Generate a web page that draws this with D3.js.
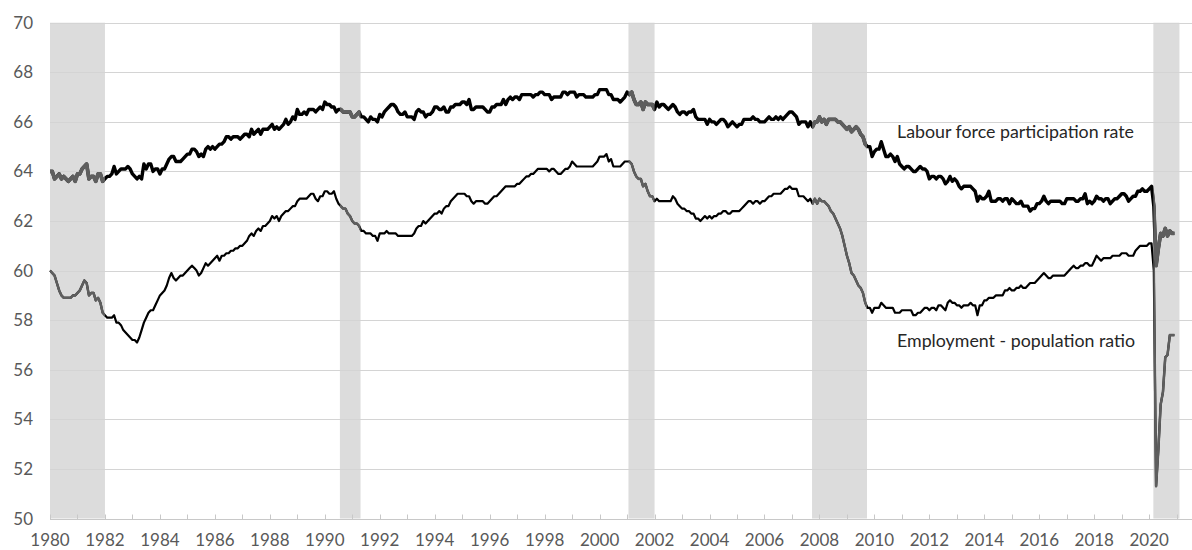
<!DOCTYPE html>
<html>
<head>
<meta charset="utf-8">
<script src="https://cdn.jsdelivr.net/npm/d3@7"></script>
<style>
  body { margin: 0; background: #fff; }
  svg { display: block; font-family: Lato, "Open Sans", sans-serif; }
  .tick-label { fill: #595959; font-size: 17px; }
  .series-label { fill: #262626; font-size: 17.8px; }
</style>
</head>
<body>
<svg id="chart" width="1192" height="550"></svg>
<script>
// monthly values, Jan 1980 .. Dec 2020
const startYear = 1980;

const participation = [
  64.0,64.0,63.7,63.8,63.9,63.7,63.8,63.7,63.6,63.7,63.8,63.6, // 1980
  63.9,63.9,64.1,64.2,64.3,63.7,63.8,63.8,63.6,63.9,63.9,63.6,
  63.7,63.8,63.8,63.9,64.2,63.9,64.0,64.1,64.1,64.1,64.2,64.1,
  63.9,63.8,63.7,63.8,63.7,64.3,64.1,64.3,64.3,64.0,64.1,64.1,
  63.9,64.1,64.1,64.3,64.5,64.6,64.6,64.4,64.4,64.4,64.5,64.6,
  64.7,64.7,64.9,64.9,64.8,64.6,64.7,64.6,64.9,65.0,64.9,65.0, // 1985
  64.9,65.0,65.1,65.1,65.2,65.4,65.4,65.3,65.4,65.4,65.4,65.3,
  65.4,65.5,65.5,65.4,65.7,65.5,65.6,65.7,65.5,65.7,65.7,65.7,
  65.8,65.9,65.7,65.8,65.7,65.8,65.9,66.1,65.9,66.0,66.2,66.1,
  66.5,66.3,66.3,66.4,66.3,66.5,66.5,66.5,66.4,66.5,66.6,66.5,
  66.8,66.7,66.7,66.6,66.6,66.4,66.5,66.5,66.4,66.4,66.4,66.4, // 1990
  66.2,66.2,66.3,66.4,66.2,66.2,66.1,66.0,66.2,66.1,66.1,66.0,
  66.3,66.2,66.4,66.5,66.6,66.7,66.7,66.6,66.4,66.3,66.3,66.4,
  66.2,66.2,66.2,66.1,66.4,66.5,66.4,66.4,66.2,66.3,66.3,66.4,
  66.6,66.6,66.5,66.5,66.6,66.4,66.4,66.6,66.6,66.7,66.7,66.7,
  66.8,66.8,66.7,66.9,66.5,66.5,66.6,66.6,66.6,66.6,66.5,66.4, // 1995
  66.4,66.6,66.6,66.7,66.7,66.7,66.9,66.7,66.9,67.0,66.9,67.0,
  67.0,66.9,67.1,67.1,67.1,67.1,67.1,67.0,67.1,67.1,67.2,67.2,
  67.1,67.1,67.1,66.9,67.0,67.0,67.0,67.0,67.2,67.2,67.1,67.2,
  67.2,67.2,67.0,67.1,67.1,67.1,67.0,67.0,67.0,67.0,67.1,67.1,
  67.3,67.3,67.3,67.3,67.1,67.1,66.9,66.9,66.9,66.8,66.9,67.0, // 2000
  67.2,67.1,67.2,66.9,66.7,66.7,66.8,66.5,66.8,66.7,66.7,66.7,
  66.5,66.8,66.6,66.7,66.7,66.6,66.5,66.6,66.7,66.6,66.4,66.3,
  66.4,66.4,66.3,66.4,66.4,66.5,66.2,66.1,66.1,66.1,66.1,65.9,
  66.1,66.0,66.0,65.9,66.0,66.1,66.1,66.0,65.8,65.9,66.0,65.9,
  65.8,65.9,65.9,66.1,66.1,66.1,66.1,66.2,66.1,66.1,66.0,66.0, // 2005
  66.0,66.1,66.2,66.1,66.1,66.2,66.1,66.2,66.1,66.2,66.3,66.4,
  66.4,66.3,66.2,65.9,66.0,66.0,66.0,65.8,66.0,65.8,66.0,66.0,
  66.2,66.0,66.1,65.9,66.1,66.1,66.1,66.1,66.0,66.0,65.9,65.8,
  65.7,65.8,65.6,65.7,65.8,65.7,65.5,65.4,65.1,65.0,65.0,64.6,
  64.8,64.9,64.9,65.2,64.9,64.6,64.6,64.7,64.6,64.4,64.6,64.3, // 2010
  64.2,64.1,64.2,64.2,64.1,64.0,64.0,64.1,64.2,64.1,64.1,64.0,
  63.7,63.8,63.8,63.7,63.8,63.8,63.7,63.5,63.6,63.8,63.6,63.7,
  63.6,63.4,63.3,63.4,63.4,63.4,63.4,63.3,63.2,62.8,63.0,62.9,
  62.9,63.0,63.2,62.8,62.8,62.8,62.9,62.9,62.8,62.9,62.9,62.7,
  62.9,62.8,62.7,62.7,62.8,62.6,62.6,62.6,62.4,62.5,62.5,62.7, // 2015
  62.7,62.8,63.0,62.8,62.7,62.8,62.8,62.8,62.8,62.8,62.7,62.7,
  62.9,62.9,62.9,62.9,62.8,62.8,62.9,62.9,63.1,62.7,62.8,62.7,
  62.8,63.0,62.9,62.9,62.8,62.9,62.9,62.7,62.8,62.9,62.9,63.0,
  63.1,63.1,63.0,62.8,62.9,63.0,63.0,63.2,63.2,63.3,63.2,63.2,
  63.3,63.4,62.6,60.2,60.9,61.5,61.4,61.7,61.4,61.6,61.5,61.5  // 2020
];

const employment = [
  60.0,59.9,59.8,59.5,59.2,59.0,58.9,58.9,58.9,58.9,59.0,59.0, // 1980
  59.1,59.2,59.4,59.6,59.5,59.0,59.1,59.1,58.8,58.9,58.7,58.3,
  58.2,58.1,58.1,58.1,58.2,57.9,57.9,57.8,57.6,57.5,57.4,57.3,
  57.2,57.2,57.1,57.3,57.6,57.9,58.1,58.3,58.4,58.4,58.6,58.8,
  59.0,59.1,59.2,59.4,59.7,59.9,59.7,59.6,59.7,59.8,59.8,59.9,
  60.0,60.1,60.2,60.1,60.0,59.8,59.9,60.1,60.3,60.2,60.3,60.4, // 1985
  60.5,60.6,60.4,60.6,60.6,60.7,60.7,60.8,60.8,60.9,60.9,61.0,
  61.0,61.1,61.2,61.4,61.5,61.4,61.6,61.7,61.6,61.8,61.8,61.9,
  62.0,62.2,62.1,62.2,62.0,62.2,62.3,62.4,62.4,62.5,62.6,62.6,
  62.8,62.9,62.9,62.9,62.9,63.0,63.1,63.1,62.9,62.8,63.0,63.0,
  63.2,63.2,63.1,63.1,63.2,62.9,62.7,62.6,62.5,62.5,62.3,62.2, // 1990
  62.0,61.9,61.9,61.8,61.6,61.6,61.5,61.5,61.5,61.4,61.4,61.2,
  61.5,61.5,61.5,61.6,61.5,61.5,61.5,61.5,61.4,61.4,61.4,61.4,
  61.4,61.4,61.4,61.5,61.7,61.8,61.8,62.0,61.9,62.0,62.1,62.2,
  62.3,62.3,62.4,62.3,62.5,62.6,62.6,62.8,62.9,63.0,63.1,63.1,
  63.1,63.1,63.0,63.0,62.8,62.7,62.8,62.8,62.8,62.8,62.7,62.7, // 1995
  62.8,62.9,63.0,63.0,63.1,63.2,63.3,63.4,63.4,63.4,63.4,63.4,
  63.5,63.5,63.6,63.7,63.8,63.8,63.9,63.9,64.0,64.1,64.1,64.1,
  64.1,64.1,64.0,64.1,64.1,64.0,63.9,63.9,64.0,64.1,64.1,64.2,
  64.4,64.3,64.2,64.2,64.2,64.2,64.2,64.2,64.2,64.2,64.3,64.4,
  64.6,64.6,64.6,64.7,64.4,64.5,64.2,64.2,64.2,64.2,64.3,64.4, // 2000
  64.4,64.4,64.3,64.0,63.8,63.7,63.7,63.4,63.5,63.2,63.0,63.0,
  62.8,62.9,62.8,62.8,62.8,62.8,62.8,62.8,63.0,62.9,62.7,62.6,
  62.5,62.5,62.4,62.4,62.3,62.3,62.1,62.1,62.0,62.1,62.2,62.1,
  62.2,62.1,62.2,62.2,62.3,62.3,62.4,62.4,62.3,62.3,62.4,62.4,
  62.4,62.4,62.5,62.6,62.7,62.8,62.8,62.7,62.8,62.8,62.7,62.8, // 2005
  62.8,62.9,63.0,63.0,63.1,63.1,63.1,63.1,63.2,63.3,63.3,63.4,
  63.3,63.3,63.3,63.0,63.0,63.0,62.9,62.8,62.9,62.7,62.9,62.7,
  62.9,62.8,62.8,62.7,62.6,62.4,62.3,62.1,61.9,61.7,61.4,61.0,
  60.6,60.3,59.9,59.8,59.6,59.4,59.3,59.1,58.7,58.5,58.5,58.3,
  58.5,58.5,58.5,58.7,58.6,58.5,58.5,58.5,58.5,58.3,58.3,58.3, // 2010
  58.4,58.4,58.4,58.4,58.4,58.2,58.2,58.3,58.3,58.4,58.5,58.5,
  58.4,58.5,58.5,58.4,58.6,58.6,58.5,58.4,58.7,58.8,58.7,58.7,
  58.6,58.6,58.5,58.6,58.6,58.6,58.7,58.6,58.6,58.2,58.6,58.6,
  58.8,58.8,58.9,58.9,58.9,59.0,59.0,59.0,59.0,59.2,59.2,59.3,
  59.2,59.2,59.3,59.3,59.4,59.3,59.3,59.4,59.5,59.5,59.5,59.6, // 2015
  59.7,59.8,59.9,59.8,59.7,59.7,59.8,59.8,59.8,59.8,59.8,59.8,
  59.9,60.0,60.1,60.2,60.1,60.1,60.2,60.2,60.3,60.3,60.2,60.2,
  60.4,60.6,60.5,60.4,60.5,60.5,60.5,60.5,60.6,60.6,60.6,60.6,
  60.7,60.7,60.7,60.6,60.6,60.6,60.8,60.9,61.0,61.0,61.0,61.0,
  61.1,61.1,60.0,51.3,52.8,54.6,55.1,56.5,56.6,57.4,57.4,57.4  // 2020
];

// shaded periods, decimal years
const recessions = [
  [1980.0, 1982.0],
  [1990.55, 1991.3],
  [2001.05, 2002.0],
  [2007.73, 2009.73],
  [2020.15, 2021.1]
];

const yTicks = [50, 52, 54, 56, 58, 60, 62, 64, 66, 68, 70];
const yearTicks = d3.range(1980, 2022);
const yearLabels = d3.range(1980, 2021, 2);

const labelLfpr = "Labour force participation rate";
const labelEpop = "Employment - population ratio";

const svg = d3.select("#chart");
const width = 1192;

const x = d3.scaleLinear().domain([1980, 2021]).range([50, 1176.7]);
const y = d3.scaleLinear().domain([50, 70]).range([518.5, 22.7]);

const toPoints = (vals) => vals.map((v, i) => ({ t: startYear + i / 12, v: v }));

// recession bands
svg.append("g").selectAll("rect")
  .data(recessions)
  .enter()
  .append("rect")
  .attr("x", d => x(d[0]))
  .attr("width", d => x(d[1]) - x(d[0]))
  .attr("y", y(70))
  .attr("height", y(50) - y(70))
  .attr("fill", "#dcdcdc");

// gridlines
svg.append("g").selectAll("line")
  .data(yTicks.slice(1))
  .enter()
  .append("line")
  .attr("x1", x(1980))
  .attr("x2", width)
  .attr("y1", d => Math.round(y(d)) + 0.5)
  .attr("y2", d => Math.round(y(d)) + 0.5)
  .attr("stroke", "#d4d4d4")
  .attr("stroke-width", 1);

// x axis line and ticks (ticks point up)
const axisY = Math.round(y(50)) + 0.5;
svg.append("line")
  .attr("x1", x(1980)).attr("x2", width)
  .attr("y1", axisY).attr("y2", axisY)
  .attr("stroke", "#c8c8c8");

svg.append("g").selectAll("line")
  .data(yearTicks)
  .enter()
  .append("line")
  .attr("x1", d => Math.round(x(d)) + 0.5)
  .attr("x2", d => Math.round(x(d)) + 0.5)
  .attr("y1", axisY)
  .attr("y2", axisY - 5)
  .attr("stroke", "#c8c8c8");

svg.append("g").selectAll("text")
  .data(yearLabels)
  .enter()
  .append("text")
  .attr("class", "tick-label")
  .attr("x", d => x(d))
  .attr("y", 546)
  .attr("text-anchor", "middle")
  .text(d => d);

svg.append("g").selectAll("text")
  .data(yTicks)
  .enter()
  .append("text")
  .attr("class", "tick-label")
  .attr("x", 33)
  .attr("y", d => y(d) + 6)
  .attr("text-anchor", "end")
  .text(d => d);

// clip to recession bands so the lines turn grey inside them
const clip = svg.append("defs").append("clipPath").attr("id", "rec-clip");
clip.selectAll("rect")
  .data(recessions)
  .enter()
  .append("rect")
  .attr("x", d => x(d[0]))
  .attr("width", d => x(d[1]) - x(d[0]))
  .attr("y", 0)
  .attr("height", 550);

const line = d3.line()
  .x(d => x(d.t))
  .y(d => y(d.v));

const series = [
  { name: "lfpr", data: toPoints(participation), w: 3.4 },
  { name: "epop", data: toPoints(employment), w: 2.2 }
];

series.forEach(s => {
  svg.append("path")
    .datum(s.data)
    .attr("d", line)
    .attr("fill", "none")
    .attr("stroke", "#000")
    .attr("stroke-width", s.w)
    .attr("stroke-linejoin", "round");
  svg.append("path")
    .datum(s.data)
    .attr("d", line)
    .attr("fill", "none")
    .attr("stroke", "#5e5e5e")
    .attr("stroke-width", s.w + 0.3)
    .attr("stroke-linejoin", "round")
    .attr("clip-path", "url(#rec-clip)");
});

svg.append("text")
  .attr("class", "series-label")
  .attr("x", 897)
  .attr("y", 138)
  .text(labelLfpr);

svg.append("text")
  .attr("class", "series-label")
  .attr("x", 897)
  .attr("y", 347)
  .text(labelEpop);
</script>
</body>
</html>
